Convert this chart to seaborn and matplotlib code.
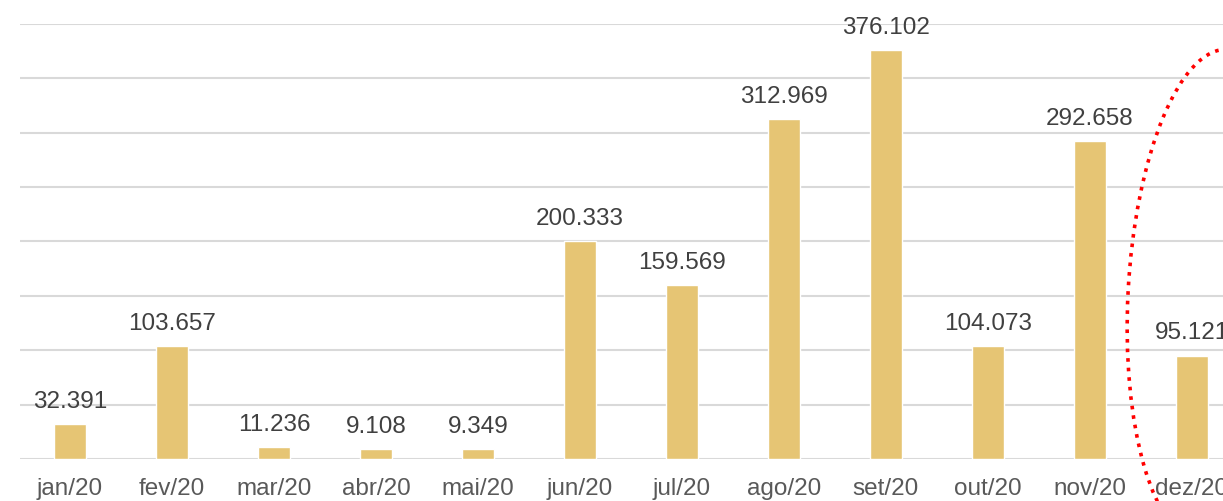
import matplotlib
matplotlib.use('AGG')
import matplotlib.pyplot as plt
import matplotlib.transforms as mtransforms
from matplotlib.patches import Ellipse
import seaborn as sns

# ==============================================================================
#                                                                           DATA
# ==============================================================================
months = ["jan/20", "fev/20", "mar/20", "abr/20", "mai/20", "jun/20",
          "jul/20", "ago/20", "set/20", "out/20", "nov/20", "dez/20"]
values = [32391, 103657, 11236, 9108, 9349, 200333,
          159569, 312969, 376102, 104073, 292658, 95121]

BAR_COLOR = "#E6C574"
GRID_COLOR = "#D9D9D9"

# ==============================================================================
#                                                                           PLOT
# ==============================================================================
sns.set_style("white")
plt.rcParams['font.family'] = ['Liberation Sans', 'DejaVu Sans']

W, H = 1223, 501
fig = plt.figure(figsize=(W / 100, H / 100), dpi=100)
ax = fig.add_axes([20 / W, 42 / H, 1 - 20 / W, 435 / H])

sns.barplot(x=months, y=values, color=BAR_COLOR, width=0.31,
            saturation=1, ax=ax, zorder=3)

# Axes ranges: first category sits 50px in from the left edge, 102px per step
# (the last month is cut by the right edge, as in the original slide)
ax.set_xlim(-50 / 102, (W - 70) / 102)
ax.set_ylim(0, 400000)
ax.set_yticks(range(0, 400001, 50000))
ax.yaxis.grid(True, color=GRID_COLOR, linewidth=1.5, zorder=0)
ax.set_yticklabels([])
ax.tick_params(axis="y", length=0)
ax.tick_params(axis="x", length=0, pad=14, labelsize=17.5, labelcolor="#595959")
for s in ax.spines.values():
    s.set_visible(False)

# Value labels
for i, v in enumerate(values):
    ax.annotate("{:,}".format(v).replace(",", "."), (i, v),
                xytext=(0, 8), textcoords="offset points",
                ha="center", va="bottom", fontsize=17.5, color="#404040",
                annotation_clip=False)

# Red dotted highlight around the last month
ell = Ellipse((1215, H - 296), width=174, height=494, angle=-3,
              transform=mtransforms.IdentityTransform(),
              fill=False, edgecolor="#FF0000", linestyle=":", linewidth=2.6)
fig.add_artist(ell)

fig.savefig("out.png", dpi=100)
plt.close()
